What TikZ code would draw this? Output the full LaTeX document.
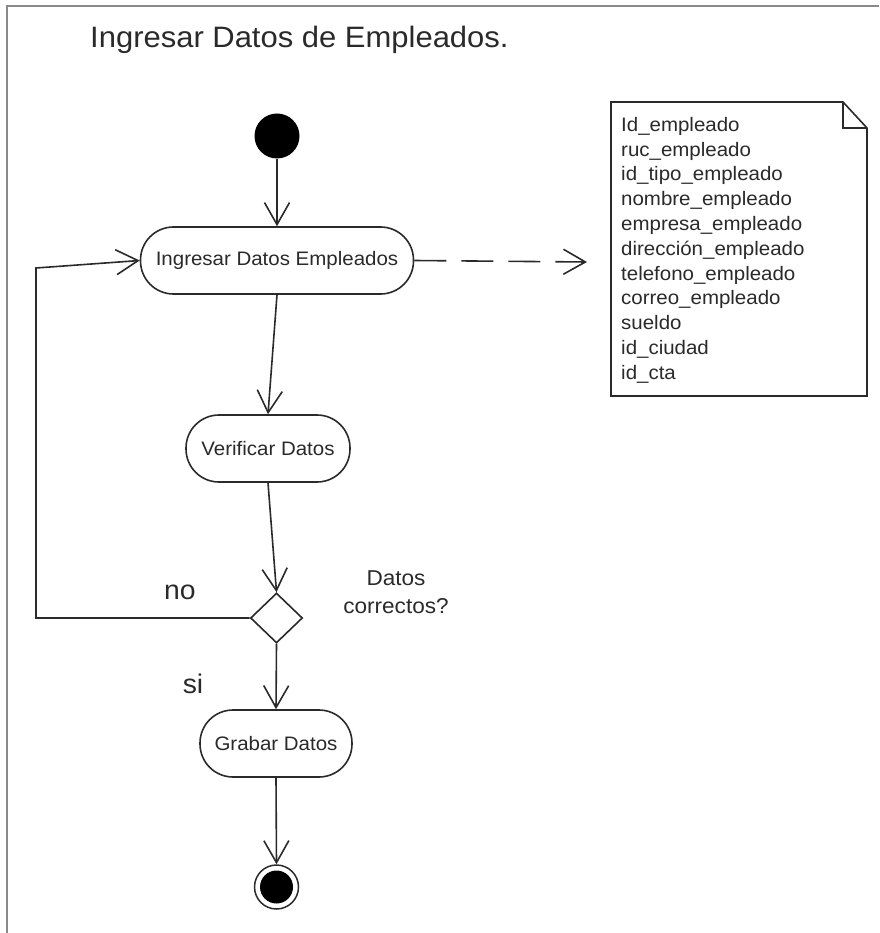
\documentclass[tikz,border=0pt]{standalone}
\usepackage{fontspec}
\setmainfont[FakeStretch=1.05]{Liberation Sans}
\usetikzlibrary{arrows.meta,shapes.geometric}

\definecolor{ink}{HTML}{2A2A2A}
\definecolor{frame}{HTML}{8A8A8A}

\tikzset{
  flow/.style={draw=ink, line width=1.6pt, -{Straight Barb[length=22pt,width=25pt,line width=1.6pt]}},
  activity/.style={draw=ink, line width=1.6pt, fill=white, rectangle, rounded corners=33pt,
    minimum height=67pt, inner sep=0pt, text=ink, font=\fontsize{19.5}{23}\selectfont},
  startnode/.style={circle, fill=black, minimum size=45pt, inner sep=0pt},
  endnode/.style={circle, draw=ink, line width=1.5pt, minimum size=44pt, inner sep=0pt,
    path picture={\fill[black] (path picture bounding box.center) circle (16.5pt);}},
  decision/.style={draw=ink, line width=1.6pt, fill=white, diamond, minimum width=52pt,
    minimum height=50pt, inner sep=0pt},
  lbl/.style={text=ink, inner sep=0pt},
}

\begin{document}
\begin{tikzpicture}[x=1pt, y=-1pt]
  \useasboundingbox (0,0) rectangle (879,933);

  % outer frame (only top and left edges are inside the page)
  \draw[frame, line width=2.4pt] (7,933) -- (7,6) -- (879,6);

  % title
  \node[lbl, anchor=base west, font=\fontsize{29.5}{34}\selectfont] (title) at (90,48)
    {Ingresar Datos de Empleados.};

  % activity nodes
  \node[startnode] (start) at (277,136) {};
  \node[activity, minimum width=273pt] (ing) at (277,260.5) {Ingresar Datos Empleados};
  \node[activity, minimum width=164pt] (verif) at (268,448.5) {Verificar Datos};
  \node[decision] (dec) at (276.5,618) {};
  \node[activity, minimum width=152pt] (grab) at (276,743.5) {Grabar Datos};
  \node[endnode] (fin) at (276.5,887) {};

  % data note with folded corner
  \draw[draw=ink, line width=1.6pt, fill=white]
    (611,102) -- (843,102) -- (867,128) -- (867,396) -- (611,396) -- cycle;
  \draw[draw=ink, line width=1.6pt] (843,102) -- (843,128) -- (867,128);
  \node[lbl, anchor=north west, align=left, font=\fontsize{19.5}{24.8}\selectfont] (note) at (621,117)
    {Id\_empleado\\ruc\_empleado\\id\_tipo\_empleado\\nombre\_empleado\\empresa\_empleado\\
     dirección\_empleado\\telefono\_empleado\\correo\_empleado\\sueldo\\id\_ciudad\\id\_cta};

  % labels
  \node[lbl, font=\fontsize{27}{30}\selectfont] (lno) at (180,592) {no};
  \node[lbl, font=\fontsize{27}{30}\selectfont] (lsi) at (193,684) {si};
  \node[lbl, align=center, font=\fontsize{21.5}{28}\selectfont] (lq) at (396,592)
    {Datos\\correctos?};

  % connectors
  \coordinate (noteTip) at (587,262);
  \coordinate (loopA) at (36,618);
  \coordinate (loopB) at (36,268);

  \draw[flow] (start.south) -- (ing.north);
  \draw[flow] (ing.south) -- (verif.north);
  \draw[flow] (verif.south) -- (dec.north);
  \draw[flow] (dec.south) -- (grab.north);
  \draw[flow] (grab.south) -- (fin.north);
  \draw[flow] (dec.west) -- (loopA) -- (loopB) -- (ing.west);
  \draw[flow, dash pattern=on 32pt off 15pt] (ing.east) -- (noteTip);
\end{tikzpicture}
\end{document}
